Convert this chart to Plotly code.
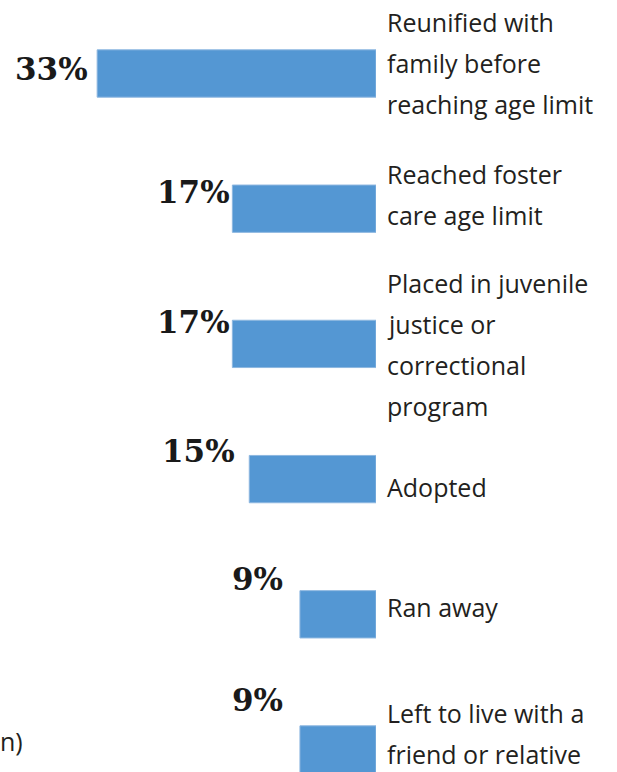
import plotly.graph_objects as go

# Data
categories = [
    "Reunified with family before reaching age limit",
    "Reached foster care age limit",
    "Placed in juvenile justice or correctional program",
    "Adopted",
    "Ran away",
    "Left to live with a friend or relative",
]
values = [33, 17, 17, 15, 9, 9]
label_lines = [
    ["Reunified with", "family before", "reaching age limit"],
    ["Reached foster", "care age limit"],
    ["Placed in juvenile", "justice or", "correctional", "program"],
    ["Adopted"],
    ["Ran away"],
    ["Left to live with a", "friend or relative"],
]
pct_labels = [f"{v}%" for v in values]

# Styling (screen-pixel offsets for the designed label placement)
first_line_offset = [-49.5, -33, -59, 10, -5, -34.5]   # px below bar centre
line_gap = 41
pct_up = [5, 17, 21.5, 28.5, 35, 49.5]
pct_gap = [7, 0, 0, 12, 15, 15]

BAR = "#5497d3"
TXT = "#231f20"
LABEL_FONT = dict(family="Open Sans, Noto Sans, sans-serif", size=25, color=TXT)
PCT_FONT = dict(family="DejaVu Serif, serif", size=31, color="#1a1a1a", weight="bold")

fig = go.Figure(
    go.Bar(
        x=values,
        y=categories,
        orientation="h",
        marker=dict(color=BAR, line=dict(color="#8db7e0", width=1)),
        width=0.35,
        hoverinfo="skip",
    )
)

ann = []
for i, cat in enumerate(categories):
    for k, line in enumerate(label_lines[i]):
        ann.append(dict(
            x=0, y=cat, xref="x", yref="y", text=line, showarrow=False,
            xanchor="left", yanchor="middle", xshift=9,
            yshift=-(first_line_offset[i] + k * line_gap) + 2,
            font=LABEL_FONT,
        ))
    ann.append(dict(
        x=values[i], y=cat, xref="x", yref="y", text=pct_labels[i], showarrow=False,
        xanchor="right", yanchor="middle", xshift=-pct_gap[i], yshift=pct_up[i],
        font=PCT_FONT,
    ))

ann.append(dict(
    x=0, y=1 - 741 / 772, xref="paper", yref="paper", text="n)", showarrow=False,
    xanchor="left", yanchor="middle", font=LABEL_FONT, xshift=-2,
))

spacing = 135.2
top = -73.5 / spacing
bottom = top + 772 / spacing

fig.update_layout(
    width=617, height=772,
    margin=dict(l=0, r=241, t=0, b=0),
    paper_bgcolor="white", plot_bgcolor="white",
    showlegend=False,
    xaxis=dict(range=[376 / 8.45, 0], visible=False, fixedrange=True),
    yaxis=dict(type="category", categoryorder="array", categoryarray=categories,
               range=[bottom, top], visible=False, fixedrange=True),
    annotations=ann,
)

fig.write_html(
    "out.html",
    config={"displayModeBar": False},
    post_script="document.body.style.margin='0';document.body.style.overflow='hidden';",
)
